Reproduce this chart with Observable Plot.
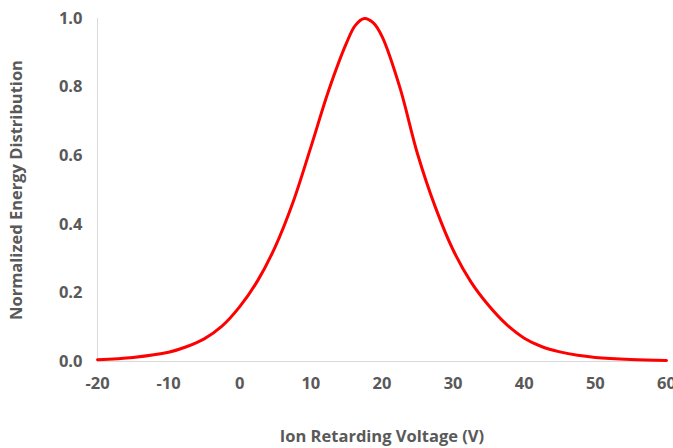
<!DOCTYPE html>
<html>
<head>
<meta charset="utf-8">
<script src="https://cdn.jsdelivr.net/npm/d3@7"></script>
<script src="https://cdn.jsdelivr.net/npm/@observablehq/plot@0.6"></script>
<style>
  body { margin: 0; background: #fff; }
  svg { font-family: "Open Sans", sans-serif; }
</style>
</head>
<body>
<div id="chart"></div>
<script>
const voltage = [-20, -15, -10, -7.5, -5, -2.5, 0, 2.5, 5, 7.5, 10, 12.5, 15, 16.25, 17.5, 18.75, 20, 22.5, 25, 27.5, 30, 32.5, 35, 37.5, 40, 42.5, 45, 47.5, 50, 55, 60];
const energy = [0.005, 0.012, 0.027, 0.043, 0.066, 0.103, 0.16, 0.235, 0.335, 0.465, 0.625, 0.79, 0.928, 0.98, 1.0, 0.988, 0.948, 0.80, 0.605, 0.45, 0.325, 0.232, 0.163, 0.108, 0.068, 0.043, 0.028, 0.018, 0.012, 0.006, 0.003];
const xTicks = [-20, -10, 0, 10, 20, 30, 40, 50, 60];
const yTicks = [0, 0.2, 0.4, 0.6, 0.8, 1.0];
const xTitle = "Ion Retarding Voltage (V)";
const yTitle = "Normalized Energy Distribution";

const data = voltage.map((v, i) => ({v, e: energy[i]}));

const chart = Plot.plot({
  width: 673,
  height: 448,
  marginLeft: 97,
  marginRight: 7,
  marginTop: 18,
  marginBottom: 87,
  style: {fontFamily: "Open Sans, sans-serif", background: "#fff"},
  x: {domain: [-20, 60]},
  y: {domain: [0, 1]},
  marks: [
    Plot.ruleX([-20], {stroke: "#d9d9d9", strokeWidth: 1}),
    Plot.ruleY([0], {stroke: "#d9d9d9", strokeWidth: 1}),
    Plot.axisX({ticks: xTicks, tickSize: 0, tickPadding: 16, label: null, fontSize: 16.5, fontWeight: "bold", fill: "#595959", tickFormat: d => d}),
    Plot.axisY({ticks: yTicks, tickSize: 0, tickPadding: 15, label: null, fontSize: 16.5, fontWeight: "bold", fill: "#595959", tickFormat: d3.format(".1f")}),
    Plot.line(data, {x: "v", y: "e", stroke: "#ff0000", strokeWidth: 3, curve: "catmull-rom"})
  ]
});

const svg = d3.select(chart);
svg.append("text")
  .attr("x", 382).attr("y", 438)
  .attr("text-anchor", "middle").attr("dominant-baseline", "middle")
  .attr("font-size", 16.5).attr("font-weight", "bold").attr("fill", "#595959")
  .text(xTitle);
svg.append("text")
  .attr("transform", "translate(18,190) rotate(-90)")
  .attr("text-anchor", "middle").attr("dominant-baseline", "middle")
  .attr("font-size", 16.5).attr("font-weight", "bold").attr("fill", "#595959")
  .text(yTitle);

document.getElementById("chart").appendChild(chart);
</script>
</body>
</html>
